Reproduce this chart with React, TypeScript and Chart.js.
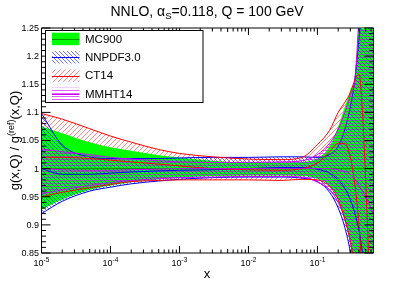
import React, { useEffect, useRef } from 'react';
import { Chart, registerables } from 'chart.js';
Chart.register(...registerables);

// ---------------- data ----------------
const xGrid = [1e-5, 2e-5, 5e-5, 1e-4, 2e-4, 5e-4, 1e-3, 3e-3, 1e-2, 3e-2, 0.06, 0.1, 0.15, 0.2, 0.25, 0.3, 0.35, 0.4, 0.45, 0.5, 0.55, 0.6, 0.65];

const mc900Up = [1.075, 1.063, 1.047, 1.038, 1.032, 1.024, 1.020, 1.014, 1.011, 1.011, 1.012, 1.018, 1.040, 1.075, 1.110, 1.140, 1.165, 1.270, 1.400, 1.500, 1.600, 1.700, 1.800];
const mc900Lo = [0.927, 0.945, 0.962, 0.970, 0.976, 0.981, 0.984, 0.987, 0.988, 0.988, 0.987, 0.982, 0.970, 0.945, 0.910, 0.870, 0.800, 0.700, 0.600, 0.500, 0.400, 0.300, 0.200];
const mc900Mid = [1.0, 1.0, 1.0, 1.0, 1.0, 1.0, 1.0, 1.0, 1.0, 1.0, 1.0, 1.0, 1.0, 1.0, 1.0, 1.0, 1.0, 1.0, 1.0, 1.0, 1.0, 1.0, 1.0];

const nnpdfUp = [1.098, 1.042, 1.021, 1.018, 1.018, 1.018, 1.019, 1.020, 1.020, 1.021, 1.021, 1.020, 1.025, 1.040, 1.070, 1.110, 1.160, 1.230, 1.300, 1.400, 1.500, 1.600, 1.700];
const nnpdfLo = [0.920, 0.942, 0.960, 0.967, 0.973, 0.978, 0.981, 0.984, 0.985, 0.985, 0.983, 0.977, 0.958, 0.930, 0.895, 0.850, 0.780, 0.700, 0.600, 0.500, 0.400, 0.300, 0.200];
const nnpdfMid = [1.000, 0.990, 0.990, 0.992, 0.994, 0.996, 0.997, 0.998, 1.000, 1.002, 1.002, 0.999, 0.992, 0.980, 0.965, 0.945, 0.920, 0.890, 0.850, 0.800, 0.750, 0.700, 0.650];

const ct14Up = [1.098, 1.088, 1.071, 1.058, 1.047, 1.034, 1.027, 1.021, 1.017, 1.016, 1.020, 1.043, 1.068, 1.100, 1.118, 1.135, 1.158, 1.168, 1.100, 0.980, 0.850, 0.700, 0.600];
const ct14Lo = [0.950, 0.958, 0.966, 0.972, 0.977, 0.979, 0.980, 0.980, 0.980, 0.979, 0.981, 0.980, 0.968, 0.945, 0.910, 0.870, 0.820, 0.750, 0.650, 0.550, 0.450, 0.350, 0.250];
const ct14Mid = [1.020, 1.020, 1.018, 1.015, 1.012, 1.008, 1.005, 1.000, 0.998, 0.997, 1.000, 1.010, 1.030, 1.045, 1.045, 1.020, 0.970, 0.900, 0.800, 0.700, 0.600, 0.500, 0.400];

const mmhtUp = [1.035, 1.030, 1.025, 1.020, 1.017, 1.014, 1.012, 1.011, 1.011, 1.012, 1.014, 1.025, 1.045, 1.070, 1.100, 1.130, 1.160, 1.270, 1.400, 1.500, 1.600, 1.700, 1.800];
const mmhtLo = [0.955, 0.962, 0.970, 0.975, 0.979, 0.982, 0.984, 0.985, 0.986, 0.986, 0.985, 0.976, 0.962, 0.940, 0.910, 0.870, 0.810, 0.720, 0.620, 0.520, 0.420, 0.320, 0.220];
const mmhtMid = [1.000, 0.998, 0.997, 0.997, 0.998, 0.999, 1.000, 1.000, 1.000, 1.000, 1.000, 1.000, 1.000, 0.998, 0.995, 0.990, 0.980, 0.970, 0.960, 0.950, 0.940, 0.930, 0.920];

const seriesNames = ['MC900', 'NNPDF3.0', 'CT14', 'MMHT14'];
const yTicks = [0.85, 0.9, 0.95, 1.0, 1.05, 1.1, 1.15, 1.2, 1.25];
const yTickLabels = ['0.85', '0.9', '0.95', '1', '1.05', '1.1', '1.15', '1.2', '1.25'];
const xDecades = [1e-5, 1e-4, 1e-3, 1e-2, 1e-1];
const xDecadeExps = ['-5', '-4', '-3', '-2', '-1'];
const X_MIN = 1e-5;
const X_MAX = 0.65;
const Y_MIN = 0.85;
const Y_MAX = 1.25;

// ---------------- styles ----------------
const GREEN = '#00ff00';
const DKGREEN = '#009900';
const BLUE = '#0000ff';
const RED = '#ff0000';
const MAG = '#cc00ff';
const FONT = '"Liberation Sans", Arial, Helvetica, sans-serif';

function makeHatch(kind: 'fwd' | 'back' | 'horiz', color: string, size: number, alpha: number): CanvasPattern | string {
  const c = document.createElement('canvas');
  c.width = size;
  c.height = size;
  const g = c.getContext('2d');
  if (!g) return color;
  g.globalAlpha = alpha;
  g.strokeStyle = color;
  g.lineWidth = 1;
  g.beginPath();
  if (kind === 'horiz') {
    g.moveTo(0, 0.5);
    g.lineTo(size, 0.5);
  } else if (kind === 'fwd') {
    g.moveTo(0, size);
    g.lineTo(size, 0);
    g.moveTo(-1, 1);
    g.lineTo(1, -1);
    g.moveTo(size - 1, size + 1);
    g.lineTo(size + 1, size - 1);
  } else {
    g.moveTo(0, 0);
    g.lineTo(size, size);
    g.moveTo(size - 1, -1);
    g.lineTo(size + 1, 1);
    g.moveTo(-1, size - 1);
    g.lineTo(1, size + 1);
  }
  g.stroke();
  const p = g.createPattern(c, 'repeat');
  return p || color;
}

const pts = (ys: number[]) => xGrid.map((x, i) => ({ x, y: ys[i] }));

function drawRich(ctx: CanvasRenderingContext2D, parts: { t: string; size: number; dy: number }[], x: number, y: number, align: 'center' | 'left' | 'right') {
  let total = 0;
  const widths = parts.map((p) => {
    ctx.font = `${p.size}px ${FONT}`;
    const w = ctx.measureText(p.t).width;
    total += w;
    return w;
  });
  let cx = align === 'center' ? x - total / 2 : align === 'right' ? x - total : x;
  ctx.textAlign = 'left';
  ctx.textBaseline = 'alphabetic';
  parts.forEach((p, i) => {
    ctx.font = `${p.size}px ${FONT}`;
    ctx.fillText(p.t, cx, y + p.dy);
    cx += widths[i];
  });
}

export default function App() {
  const ref = useRef<HTMLCanvasElement | null>(null);

  useEffect(() => {
    const canvas = ref.current;
    if (!canvas) return;
    const blueHatch = makeHatch('back', BLUE, 4, 0.55);
    const redHatch = makeHatch('fwd', RED, 5, 0.45);
    const magHatch = makeHatch('horiz', MAG, 3, 0.6);

    const deco = {
      id: 'rootDeco',
      beforeDatasetsDraw(chart: any) {
        const { ctx, chartArea: a } = chart;
        ctx.save();
        ctx.strokeStyle = '#000';
        ctx.lineWidth = 1;
        ctx.beginPath();
        ctx.moveTo(a.left, a.top);
        ctx.lineTo(a.right, a.top);
        ctx.lineTo(a.right, a.bottom);
        ctx.stroke();
        ctx.restore();
      },
      afterDatasetsDraw(chart: any) {
        const { ctx, chartArea: a, scales } = chart;
        const xs = scales.x;
        const ys = scales.y;
        ctx.save();
        ctx.strokeStyle = '#000';
        ctx.lineWidth = 1;
        ctx.beginPath();
        ctx.moveTo(a.left, a.top);
        ctx.lineTo(a.left, a.bottom);
        ctx.lineTo(a.right, a.bottom);
        for (let d = 0; d < xDecades.length; d++) {
          const base = xDecades[d];
          const px = xs.getPixelForValue(base);
          ctx.moveTo(px, a.bottom);
          ctx.lineTo(px, a.bottom - 7);
          ctx.moveTo(px, a.top);
          ctx.lineTo(px, a.top + 7);
          for (let k = 2; k <= 9; k++) {
            const v = base * k;
            if (v > X_MAX) break;
            const mx = xs.getPixelForValue(v);
            const len = k === 5 ? 4 : 3.5;
            ctx.moveTo(mx, a.bottom);
            ctx.lineTo(mx, a.bottom - len);
            ctx.moveTo(mx, a.top);
            ctx.lineTo(mx, a.top + len);
          }
        }
        for (let i = 0; i < yTicks.length; i++) {
          const py = ys.getPixelForValue(yTicks[i]);
          ctx.moveTo(a.left, py);
          ctx.lineTo(a.left + 9, py);
          ctx.moveTo(a.right, py);
          ctx.lineTo(a.right - 9, py);
          if (i < yTicks.length - 1) {
            const step = (yTicks[i + 1] - yTicks[i]) / 5;
            for (let k = 1; k < 5; k++) {
              const my = ys.getPixelForValue(yTicks[i] + step * k);
              ctx.moveTo(a.left, my);
              ctx.lineTo(a.left + 4.5, my);
              ctx.moveTo(a.right, my);
              ctx.lineTo(a.right - 4.5, my);
            }
          }
        }
        ctx.stroke();

        ctx.fillStyle = '#000';
        ctx.font = `9px ${FONT}`;
        ctx.textAlign = 'right';
        ctx.textBaseline = 'middle';
        yTicks.forEach((v, i) => {
          ctx.fillText(yTickLabels[i], a.left - 2.5, ys.getPixelForValue(v) + 0.5);
        });
        xDecades.forEach((v, i) => {
          const px = xs.getPixelForValue(v);
          drawRich(ctx, [
            { t: '10', size: 9, dy: 0 },
            { t: xDecadeExps[i], size: 6.5, dy: -4 },
          ], px, a.bottom + 12.5, 'center');
        });
        ctx.restore();
      },
      afterDraw(chart: any) {
        const { ctx, chartArea: a } = chart;
        ctx.save();
        ctx.fillStyle = '#000';
        drawRich(ctx, [
          { t: 'NNLO, \u03b1', size: 14, dy: 0 },
          { t: 'S', size: 9.5, dy: 3 },
          { t: '=0.118, Q = 100 GeV', size: 14, dy: 0 },
        ], 207, 16, 'center');
        drawRich(ctx, [{ t: 'x', size: 13, dy: 0 }], 207, 278, 'center');
        ctx.save();
        ctx.translate(19, (a.top + a.bottom) / 2);
        ctx.rotate(-Math.PI / 2);
        drawRich(ctx, [
          { t: 'g(x,Q) / g', size: 13, dy: 0 },
          { t: '(ref)', size: 9, dy: -5 },
          { t: '(x,Q)', size: 13, dy: 0 },
        ], 0, 0, 'center');
        ctx.restore();

        const lx = 45.5, ly = 30.5, lw = 157.5, lh = 72;
        ctx.fillStyle = '#fff';
        ctx.fillRect(lx, ly, lw, lh);
        ctx.strokeStyle = '#000';
        ctx.lineWidth = 1;
        ctx.strokeRect(lx, ly, lw, lh);
        const rows = [39, 57.3, 75.7, 94];
        const fills: any[] = [GREEN, blueHatch, redHatch, magHatch];
        const lineCols = [DKGREEN, BLUE, RED, MAG];
        rows.forEach((ry, i) => {
          const sx = 52, sw = 27.5, sh = 12.5;
          const sy = ry - 6.3;
          ctx.fillStyle = fills[i];
          ctx.fillRect(sx, sy, sw, sh);
          ctx.strokeStyle = lineCols[i];
          ctx.beginPath();
          ctx.moveTo(sx, Math.round(ry) + 0.5);
          ctx.lineTo(sx + sw, Math.round(ry) + 0.5);
          ctx.stroke();
          ctx.fillStyle = '#000';
          ctx.font = `11.5px ${FONT}`;
          ctx.textAlign = 'left';
          ctx.textBaseline = 'middle';
          ctx.fillText(seriesNames[i], 85, ry + 0.5);
        });
        ctx.restore();
      },
    };

    const band = (up: number[], lo: number[], fillStyle: any, edge: string, order: number, edgeW: number) => [
      { data: pts(up), fill: '+1', backgroundColor: fillStyle, borderColor: edge, borderWidth: edgeW, order },
      { data: pts(lo), fill: false, borderColor: edge, borderWidth: edgeW, order },
    ];
    const line = (ys: number[], col: string, order: number) => ({ data: pts(ys), borderColor: col, borderWidth: 1, fill: false, order });

    const chart = new Chart(canvas, {
      type: 'line',
      data: {
        datasets: [
          line(mmhtMid, MAG, 1),
          line(ct14Mid, RED, 2),
          line(nnpdfMid, BLUE, 3),
          line(mc900Mid, DKGREEN, 4),
          line(ct14Up, RED, 5),
          line(ct14Lo, RED, 5),
          ...band(mmhtUp, mmhtLo, magHatch, MAG, 10, 1),
          ...band(nnpdfUp, nnpdfLo, blueHatch, BLUE, 30, 1),
          ...band(mc900Up, mc900Lo, GREEN, GREEN, 40, 0),
          ...band(ct14Up, ct14Lo, redHatch, RED, 50, 0),
        ] as any,
      },
      options: {
        animation: false,
        responsive: false,
        maintainAspectRatio: false,
        events: [],
        layout: { padding: { left: 41.5, right: 41.5, top: 28, bottom: 28 } },
        plugins: { legend: { display: false }, tooltip: { enabled: false }, title: { display: false } },
        elements: {
          point: { radius: 0 },
          line: { cubicInterpolationMode: 'monotone' },
        },
        scales: {
          x: { type: 'logarithmic', min: X_MIN, max: X_MAX, display: false },
          y: { type: 'linear', min: Y_MIN, max: Y_MAX, display: false },
        },
      } as any,
      plugins: [deco],
    });
    return () => chart.destroy();
  }, []);

  return (
    <div style={{ position: 'absolute', left: 0, top: 0, width: 415, height: 281, background: '#fff' }}>
      <canvas ref={ref} width={415} height={281} style={{ display: 'block', width: 415, height: 281 }} />
    </div>
  );
}
